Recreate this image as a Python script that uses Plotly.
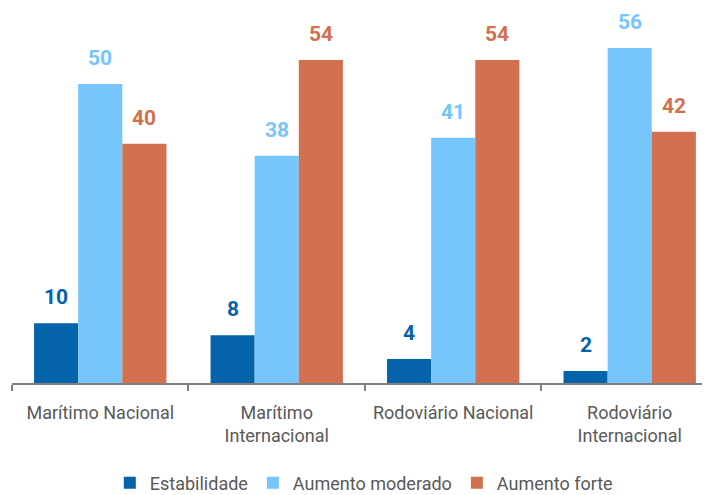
import plotly.graph_objects as go

categories = ["Marítimo Nacional", "Marítimo<br>Internacional", "Rodoviário Nacional", "Rodoviário<br>Internacional"]
series_names = ["Estabilidade", "Aumento moderado", "Aumento forte"]
estabilidade = [10, 8, 4, 2]
aumento_moderado = [50, 38, 41, 56]
aumento_forte = [40, 54, 54, 42]
colors = ["#0563A9", "#76C5FC", "#D2704F"]

series_values = [estabilidade, aumento_moderado, aumento_forte]
font_family = "Roboto, 'Open Sans', sans-serif"

fig = go.Figure()
for name, vals, col in zip(series_names, series_values, colors):
    fig.add_trace(go.Bar(x=categories, y=vals, name=name, marker_color=col,
                         marker_line_width=0))

shifts = [-44, 0, 44]
for vals, col, xs in zip(series_values, colors, shifts):
    for c, v in zip(categories, vals):
        fig.add_annotation(x=c, y=v, text=f"<b>{v}</b>", showarrow=False,
                           xshift=xs, yshift=12, yanchor="bottom",
                           font=dict(family=font_family, size=21, color=col))

# the page body adds an 8px offset, so the figure is sized to end at the window edge
fig.update_layout(
    width=702, height=487,
    margin=dict(l=4, r=0, t=0, b=112, autoexpand=False),
    plot_bgcolor="white", paper_bgcolor="white",
    barmode="group", bargap=0.25, bargroupgap=0,
    showlegend=True,
    legend=dict(orientation="h", x=0.504, xanchor="center", yref="container",
                y=0.0246, yanchor="middle",
                font=dict(family=font_family, size=18, color="#595959"),
                itemwidth=30, traceorder="normal"),
    font=dict(family=font_family, size=18, color="#595959"),
)
fig.update_xaxes(range=[-0.5, 3.455], showline=True, linecolor="#808080", linewidth=2,
                 ticks="outside", tickson="boundaries", ticklen=6, tickcolor="#808080",
                 tickwidth=2, showgrid=False, automargin=False, ticklabelstandoff=12,
                 tickfont=dict(family=font_family, size=18, color="#595959"))
fig.update_yaxes(range=[0, 62.7], visible=False, showgrid=False, automargin=False)

fig.write_html("out.html")
